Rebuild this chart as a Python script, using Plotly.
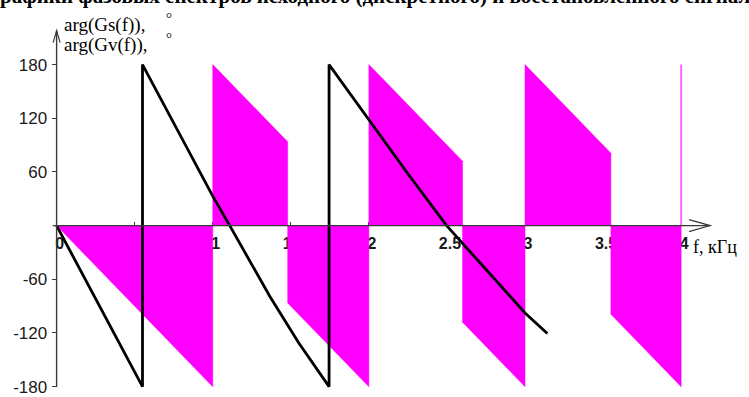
import plotly.graph_objects as go

# arg(Gs(f)): piecewise-linear phase of the sampled spectrum, degrees
gs_seg_f_start = [0.0, 1.0, 1.48, 2.0, 2.6, 3.0, 3.55]
gs_seg_f_end = [1.0, 1.48, 2.0, 2.6, 3.0, 3.55, 4.0]
gs_seg_phase_start = [0.0, 180.0, -86.4, 180.0, -108.0, 180.0, -99.0]
gs_seg_phase_end = [-180.0, 93.6, -180.0, 72.0, -180.0, 81.0, -180.0]
gs_end_f = 4.0
gs_end_phase = 180.0

# arg(Gv(f)): phase of the output spectrum, degrees (wrapped)
gv_f = [0.0, 0.55, 0.55, 1.0, 1.109, 1.365, 1.55, 1.745, 1.745,
        2.006, 2.25, 2.498, 2.605, 2.8, 3.0, 3.143]
gv_phase = [0.0, -180.0, 180.0, 33.0, 0.0, -79.0, -131.0, -180.0, 180.0,
            116.6, 58.0, 0.0, -21.0, -59.0, -97.6, -120.7]

y_tickvals = [-180, -120, -60, 60, 120, 180]
y_ticktext = ["-180", "-120", "-60", "60", "120", "180"]
x_tickvals = [0, 0.5, 1, 1.5, 2, 2.5, 3, 3.5, 4]
x_ticktext = ["0", "0.5", "1", "1.5", "2", "2.5", "3", "3.5", "4"]

W, H = 749, 397
X_RANGE = [-0.1, 4.3]
Y_RANGE = [-186.0, 222.0]
PX_PER_KHZ = 156.0
PX_PER_DEG = 322.0 / 360.0
ML = 57 - (0 - X_RANGE[0]) * PX_PER_KHZ
PW = (X_RANGE[1] - X_RANGE[0]) * PX_PER_KHZ
MR = W - ML - PW
MT = 226 - Y_RANGE[1] * PX_PER_DEG
PH = (Y_RANGE[1] - Y_RANGE[0]) * PX_PER_DEG
MB = H - MT - PH


def px2x(px):
    return (px - ML) / PW


def py2y(py):
    return 1 - (py - MT) / PH


MAGENTA = "#FF00FF"
AXIS = "#3a3a3a"

fig = go.Figure()

# filled phase bands of arg(Gs(f))
for fs, fe, ps, pe in zip(gs_seg_f_start, gs_seg_f_end,
                          gs_seg_phase_start, gs_seg_phase_end):
    fig.add_trace(go.Scatter(
        x=[fs, fs, fe, fe, fs], y=[0, ps, pe, 0, 0],
        mode="lines", fill="toself", fillcolor=MAGENTA,
        line=dict(color=MAGENTA, width=0.5),
        hoverinfo="skip", showlegend=False))

fig.add_trace(go.Scatter(
    x=[gs_end_f, gs_end_f], y=[0, gs_end_phase], mode="lines",
    line=dict(color="#FF66FF", width=2), showlegend=False))

fig.add_trace(go.Scatter(
    x=gv_f, y=gv_phase, mode="lines",
    line=dict(color="black", width=2.8), showlegend=False))

# axis lines with open arrowheads
shapes = [
    dict(type="line", xref="x", yref="y", x0=-0.025, y0=0, x1=4.186, y1=0,
         line=dict(color=AXIS, width=1.4), layer="above"),
    dict(type="path", xref="x", yref="y",
         path="M 4.05,6.7 L 4.186,0 L 4.05,-6.7",
         line=dict(color=AXIS, width=1.2), layer="above"),
    dict(type="line", xref="x", yref="y", x0=0, y0=-180, x1=0, y1=218,
         line=dict(color=AXIS, width=1.4), layer="above"),
    dict(type="path", xref="x", yref="y",
         path="M -0.0224,204.6 L 0,218 L 0.0224,204.6",
         line=dict(color=AXIS, width=1.2), layer="above"),
]

serif = "Liberation Serif, Times New Roman, serif"
annotations = [
    dict(text="<b>рафики фазовых спектров исходного (дискретного) и восстановленного сигналов</b>",
         xref="paper", yref="paper", x=px2x(-2), y=py2y(-4),
         xanchor="left", yanchor="middle", showarrow=False,
         font=dict(family=serif, size=21, color="black")),
    dict(text="arg(Gs(f)),", xref="paper", yref="paper",
         x=px2x(62), y=py2y(25), xanchor="left", yanchor="middle",
         showarrow=False, font=dict(family=serif, size=19, color="black")),
    dict(text="°", xref="paper", yref="paper",
         x=px2x(164), y=py2y(18), xanchor="left", yanchor="middle",
         showarrow=False, font=dict(family=serif, size=15, color="black")),
    dict(text="arg(Gv(f)),", xref="paper", yref="paper",
         x=px2x(62), y=py2y(45), xanchor="left", yanchor="middle",
         showarrow=False, font=dict(family=serif, size=19, color="black")),
    dict(text="°", xref="paper", yref="paper",
         x=px2x(164), y=py2y(38), xanchor="left", yanchor="middle",
         showarrow=False, font=dict(family=serif, size=15, color="black")),
    dict(text="f, кГц", xref="paper", yref="paper",
         x=px2x(691), y=py2y(247), xanchor="left", yanchor="middle",
         showarrow=False, font=dict(family=serif, size=18, color="black")),
]

fig.update_layout(
    width=W, height=H,
    margin=dict(l=ML, r=MR, t=MT, b=MB, pad=0, autoexpand=False),
    paper_bgcolor="white", plot_bgcolor="white",
    showlegend=False,
    shapes=shapes, annotations=annotations,
    xaxis=dict(
        range=X_RANGE, anchor="free",
        position=(0 - Y_RANGE[0]) / (Y_RANGE[1] - Y_RANGE[0]),
        showgrid=False, zeroline=False, showline=False,
        tickmode="array", tickvals=x_tickvals, ticktext=x_ticktext,
        ticks="inside", ticklen=4, tickcolor=AXIS, tickwidth=1,
        ticklabelshift=3, ticklabelstandoff=6,
        tickfont=dict(family="Liberation Sans, Arial", size=16,
                      color="#1a1a1a", weight="bold"),
        layer="below traces"),
    yaxis=dict(
        range=Y_RANGE, anchor="free",
        position=(0 - X_RANGE[0]) / (X_RANGE[1] - X_RANGE[0]),
        showgrid=False, zeroline=False, showline=False,
        tickmode="array", tickvals=y_tickvals, ticktext=y_ticktext,
        ticks="outside", ticklen=5, tickcolor=AXIS, tickwidth=1,
        ticklabelstandoff=1,
        tickfont=dict(family="Liberation Sans, Arial", size=17,
                      color="#1a1a1a")),
)

fig.write_html("out.html")
